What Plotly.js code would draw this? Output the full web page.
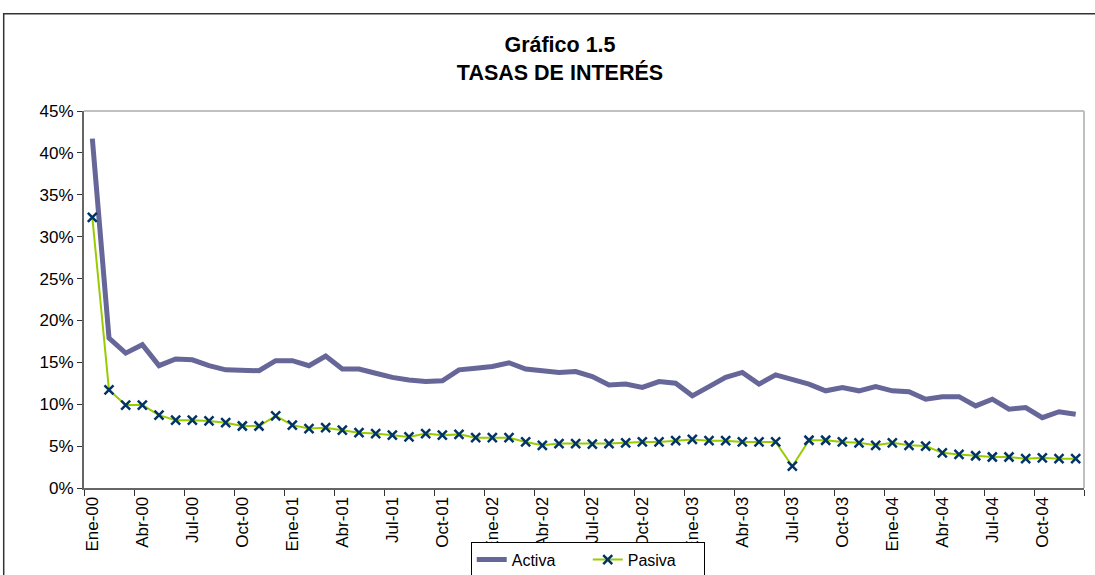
<!DOCTYPE html>
<html>
<head>
<meta charset="utf-8">
<script src="https://cdn.plot.ly/plotly-3.0.1.min.js"></script>
<style>
  html, body { margin: 0; padding: 0; background: #ffffff; }
  #chart { width: 1095px; height: 575px; }
</style>
</head>
<body>
<div id="chart"></div>
<script>
// Month categories (Jan-2000 .. Dec-2004)
const monthNames = ["Ene","Feb","Mar","Abr","May","Jun","Jul","Ago","Sep","Oct","Nov","Dic"];
const years = ["00","01","02","03","04"];
const months = [];
years.forEach(y => monthNames.forEach(m => months.push(m + "-" + y)));

// Tasa activa (%)
const activa = [
  41.7, 17.9, 16.1, 17.1, 14.6, 15.4, 15.3, 14.6, 14.1, 14.1, 14.0, 15.2,
  15.2, 14.6, 15.75, 14.2, 14.2, 13.7, 13.2, 12.9, 12.7, 12.8, 14.1, 14.3,
  14.5, 14.95, 14.2, 14.0, 13.8, 13.9, 13.3, 12.3, 12.4, 12.0, 12.7, 12.5,
  11.0, 12.1, 13.2, 13.8, 12.4, 13.5, 12.9, 12.4, 11.6, 12.0, 11.6, 12.1,
  11.6, 11.5, 10.6, 10.9, 10.9, 9.8, 10.6, 9.4, 9.6, 8.4, 9.1, 8.8
];

// Tasa pasiva (%)
const pasiva = [
  32.3, 11.7, 9.9, 9.9, 8.7, 8.1, 8.1, 8.0, 7.8, 7.4, 7.4, 8.6,
  7.5, 7.1, 7.2, 6.9, 6.6, 6.5, 6.3, 6.1, 6.5, 6.3, 6.4, 6.0,
  6.0, 6.0, 5.5, 5.1, 5.3, 5.3, 5.25, 5.3, 5.4, 5.5, 5.5, 5.65,
  5.8, 5.65, 5.65, 5.5, 5.5, 5.5, 2.6, 5.7, 5.7, 5.5, 5.4, 5.1,
  5.4, 5.1, 5.0, 4.2, 4.0, 3.85, 3.7, 3.7, 3.5, 3.6, 3.5, 3.5
];

const xIdx = months.map((_, i) => i);
const tickVals = xIdx.filter(i => i % 3 === 0);
const tickText = tickVals.map(i => months[i]);

const FONT = "Liberation Sans, Arial, Helvetica, sans-serif";

const traces = [
  {
    x: xIdx, y: activa, name: "Activa", type: "scatter", mode: "lines",
    line: { color: "#666699", width: 5 },
    text: months, hoverinfo: "text+y"
  },
  {
    x: xIdx, y: pasiva, name: "Pasiva", type: "scatter", mode: "lines+markers",
    line: { color: "#99CC00", width: 2 },
    marker: { symbol: "x-thin", size: 9, color: "#003366", line: { color: "#003366", width: 2.5 } },
    text: months, hoverinfo: "text+y"
  }
];

const layout = {
  width: 1095, height: 575,
  margin: { l: 84, r: 11, t: 111, b: 87, pad: 0, autoexpand: false },
  paper_bgcolor: "#ffffff", plot_bgcolor: "#ffffff",
  font: { family: FONT, color: "#000000", size: 17 },
  showlegend: true,
  title: {
    text: "<b>Gráfico 1.5<br>TASAS DE INTERÉS</b>",
    font: { family: FONT, size: 21.5, color: "#000000" },
    xref: "container", x: 0.5114, xanchor: "center",
    yref: "container", y: 0.909, yanchor: "middle"
  },
  xaxis: {
    range: [-0.5, 59.5], showgrid: false, zeroline: false,
    tickmode: "array", tickvals: tickVals, ticktext: tickText,
    tickangle: -90, ticks: "", tickfont: { family: FONT, size: 17, color: "#000" },
    showline: true, linecolor: "#666666", linewidth: 2,
    minor: { tickmode: "linear", tick0: -0.5, dtick: 3, ticks: "outside", ticklen: 6, tickcolor: "#333333", tickwidth: 1, showgrid: false },
    fixedrange: true, automargin: false
  },
  yaxis: {
    range: [0, 45], dtick: 5, tick0: 0, ticksuffix: "%",
    showgrid: false, zeroline: false,
    ticks: "outside", ticklen: 5, tickcolor: "#333333", tickwidth: 1,
    tickfont: { family: FONT, size: 17, color: "#000" },
    showline: true, linecolor: "#666666", linewidth: 2,
    fixedrange: true, automargin: false
  },
  legend: {
    orientation: "h",
    xref: "container", x: 0.4299, xanchor: "left",
    yref: "container", y: 0.0579, yanchor: "top",
    bgcolor: "#ffffff", bordercolor: "#000000", borderwidth: 1,
    font: { family: FONT, size: 16, color: "#000" },
    entrywidth: 71, traceorder: "normal"
  },
  shapes: [
    // plot-area border (top and right)
    { type: "line", xref: "paper", yref: "paper", x0: 0, x1: 1, y0: 1, y1: 1, line: { color: "#c0c0c0", width: 2 } },
    { type: "line", xref: "paper", yref: "paper", x0: 1, x1: 1, y0: 0, y1: 1, line: { color: "#c0c0c0", width: 2 } },
    // outer chart frame
    { type: "rect", xref: "paper", yref: "paper", x0: -0.0803, x1: 1.2, y0: -0.6, y1: 1.258, line: { color: "#333333", width: 1.5 }, fillcolor: "rgba(0,0,0,0)" }
  ]
};

Plotly.newPlot("chart", traces, layout, { displayModeBar: false, staticPlot: true });
</script>
</body>
</html>
